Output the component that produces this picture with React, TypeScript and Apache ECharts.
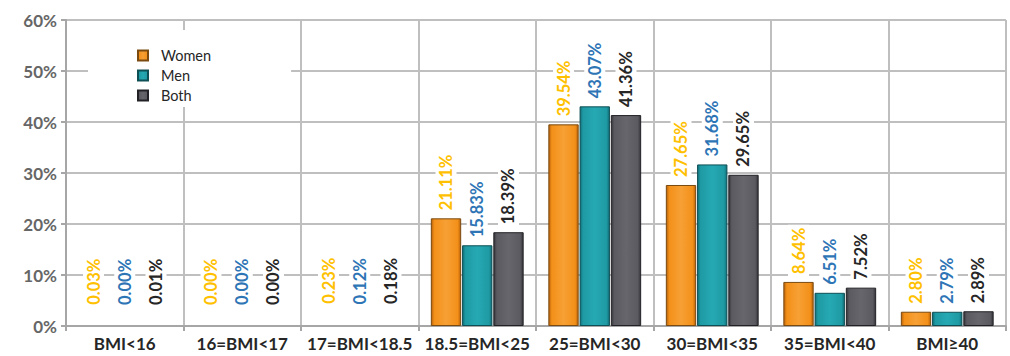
import React, { useEffect, useRef } from "react";
import * as echarts from "echarts";

const categories = ["BMI<16", "16=BMI<17", "17=BMI<18.5", "18.5=BMI<25", "25=BMI<30", "30=BMI<35", "35=BMI<40", "BMI≥40"];
const women = [0.03, 0.0, 0.23, 21.11, 39.54, 27.65, 8.64, 2.8];
const men = [0.0, 0.0, 0.12, 15.83, 43.07, 31.68, 6.51, 2.79];
const both = [0.01, 0.0, 0.18, 18.39, 41.36, 29.65, 7.52, 2.89];
const yTicks = [0, 10, 20, 30, 40, 50, 60];

const FONT = "Lato, 'Open Sans', sans-serif";

function grad(edge: string, mid: string, top: string) {
  return new echarts.graphic.LinearGradient(0, 0, 1, 0, [
    { offset: 0, color: edge },
    { offset: 0.1, color: mid },
    { offset: 0.5, color: top },
    { offset: 0.9, color: mid },
    { offset: 1, color: edge },
  ]);
}

function makeSeries(name: string, values: number[], edge: string, mid: string, top: string, border: string, labelColor: string) {
  return {
    name,
    type: "bar",
    barGap: "3%",
    barCategoryGap: "21%",
    data: values.map((v) =>
      v < 1
        ? { value: v, label: { distance: 18 }, itemStyle: { borderWidth: 0, color: "rgba(0,0,0,0)" } }
        : { value: v }
    ),
    itemStyle: { color: grad(edge, mid, top), borderColor: border, borderWidth: 1 },
    label: {
      show: true,
      position: "top",
      rotate: 90,
      align: "left",
      verticalAlign: "middle",
      distance: 5,
      color: labelColor,
      fontFamily: FONT,
      fontWeight: "bold",
      fontSize: 16.5,
      backgroundColor: "#ffffff",
      padding: [2, 3, 2, 3],
      formatter: (p: any) => Number(p.value).toFixed(2) + "%",
    },
  };
}

export default function App() {
  const ref = useRef<HTMLDivElement>(null);
  useEffect(() => {
    if (!ref.current) return;
    const chart = echarts.init(ref.current, null, { renderer: "svg" });
    chart.setOption({
      animation: false,
      backgroundColor: "#ffffff",
      grid: { left: 66, right: 4, top: 20, bottom: 30 },
      legend: {
        orient: "vertical",
        left: 88,
        top: 30,
        padding: [18, 80, 4, 49],
        backgroundColor: "#ffffff",
        itemWidth: 10,
        itemHeight: 10,
        itemGap: 5,
        icon: "rect",
        textStyle: { fontFamily: FONT, fontSize: 14.5, color: "#262626", padding: [0, 0, 0, 8] },
        data: ["Women", "Men", "Both"],
      },
      xAxis: {
        type: "category",
        data: categories,
        axisLine: { show: true, lineStyle: { color: "#a6a6a6", width: 2 } },
        axisTick: { show: true, interval: 0, length: 5, lineStyle: { color: "#a6a6a6", width: 2 } },
        splitLine: { show: true, interval: 0, lineStyle: { color: "#bfbfbf", width: 2 } },
        axisLabel: { interval: 0, fontFamily: FONT, fontWeight: "bold", fontSize: 17, color: "#262626", margin: 9 },
      },
      yAxis: {
        type: "value",
        min: yTicks[0],
        max: yTicks[yTicks.length - 1],
        interval: 10,
        axisLine: { show: true, lineStyle: { color: "#a6a6a6", width: 2 } },
        axisTick: { show: true, length: 5, lineStyle: { color: "#a6a6a6", width: 2 } },
        splitLine: { show: true, lineStyle: { color: "#bfbfbf", width: 2 } },
        axisLabel: { fontFamily: FONT, fontWeight: "bold", fontSize: 17, color: "#666666", margin: 9, formatter: "{value}%" },
      },
      series: [
        makeSeries("Women", women, "#b8620a", "#f39019", "#f7a035", "#7a4a10", "#ffc000"),
        makeSeries("Men", men, "#127078", "#1e9aa4", "#26a9b3", "#0e4f55", "#2e75b6"),
        makeSeries("Both", both, "#35353a", "#5a5a60", "#66666c", "#222226", "#262626"),
      ],
    });
    return () => chart.dispose();
  }, []);
  return <div ref={ref} style={{ width: 1010, height: 356, position: "absolute", left: 0, top: 0 }} />;
}
